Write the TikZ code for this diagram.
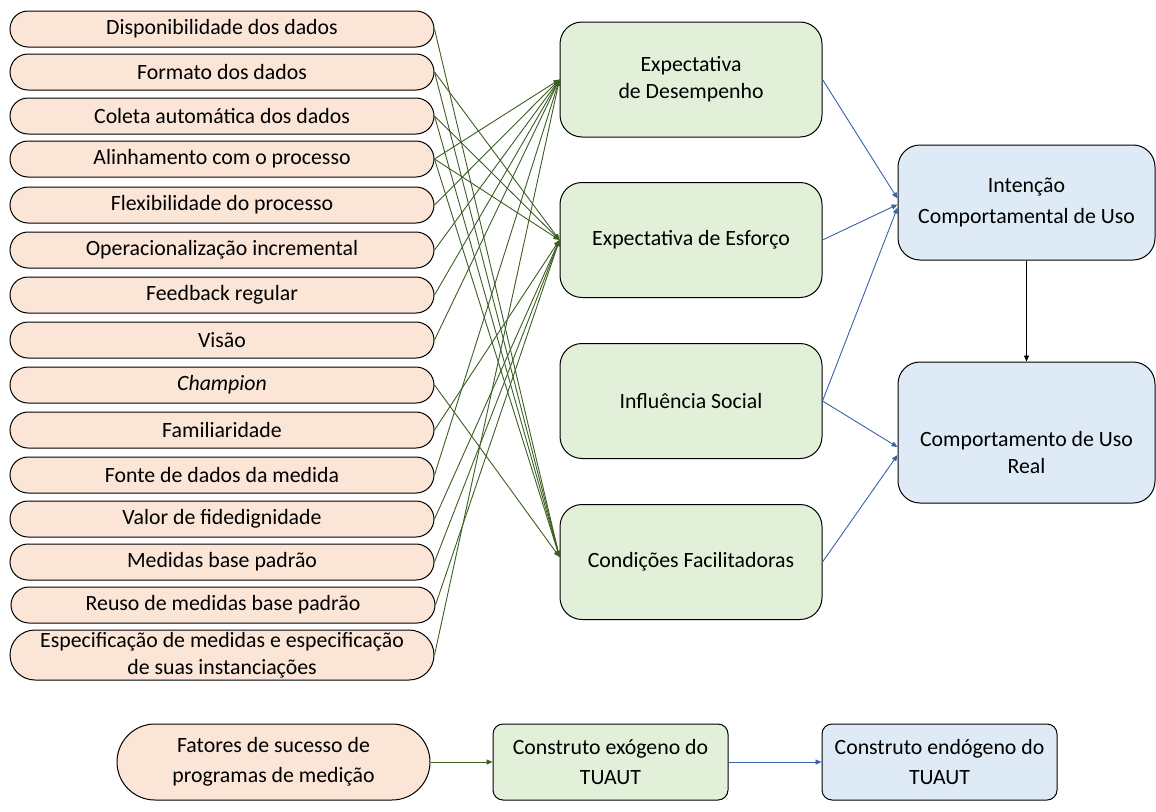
\documentclass[tikz,border=0pt]{standalone}
\usepackage{fontspec}
\setmainfont{Carlito}
\usetikzlibrary{arrows.meta,shapes.misc}
\definecolor{peach}{HTML}{FBE5D6}
\definecolor{lgreen}{HTML}{E2F0D9}
\definecolor{lblue}{HTML}{DEEBF7}
\definecolor{dgreen}{HTML}{3B5E22}
\definecolor{dblue}{HTML}{3A62A8}
\begin{document}
\begin{tikzpicture}[x=1pt,y=-1pt,
  every node/.style={font=\fontsize{21.8}{27}\selectfont, align=center, inner sep=0pt},
  factor/.style={rounded rectangle, draw=black, line width=1pt, fill=peach,
    minimum width=424pt, minimum height=36pt},
  exo/.style={draw=black, line width=1pt, fill=lgreen, rounded corners=22pt,
    minimum width=262pt, minimum height=115pt},
  endo/.style={draw=black, line width=1pt, fill=lblue, rounded corners=22pt,
    minimum width=257pt, minimum height=115pt},
  keybox/.style={draw=black, line width=1pt, rounded corners=10pt,
    minimum width=235pt, minimum height=76pt, font=\fontsize{21.8}{30}\selectfont},
  glink/.style={draw=dgreen, line width=0.9pt, -{Triangle[length=6pt,width=5pt]}},
  blink/.style={draw=dblue, line width=0.9pt, -{Triangle[length=6pt,width=5pt]}},
  klink/.style={draw=black, line width=0.9pt, -{Triangle[length=6pt,width=5pt]}}
]
\useasboundingbox (0,0) rectangle (1156,811);

% success factors
\node[factor] (f1)  at (222,29)  {Disponibilidade dos dados};
\node[factor] (f2)  at (222,72)  {Formato dos dados};
\node[factor] (f3)  at (222,116) {Coleta automática dos dados};
\node[factor] (f4)  at (222,159) {Alinhamento com o processo};
\node[factor] (f5)  at (222,205) {Flexibilidade do processo};
\node[factor] (f6)  at (222,250) {Operacionalização incremental};
\node[factor] (f7)  at (222,295) {Feedback regular};
\node[factor] (f8)  at (222,340) {Visão};
\node[factor] (f9)  at (222,385) {\itshape Champion};
\node[factor] (f10) at (222,430) {Familiaridade};
\node[factor] (f11) at (222,475) {Fonte de dados da medida};
\node[factor] (f12) at (222,519) {Valor de fidedignidade};
\node[factor] (f13) at (222,562) {Medidas base padrão};
\node[factor] (f14) at (223,605) {Reuso de medidas base padrão};
\node[factor, minimum height=50pt] (f15) at (222,655)
  {Especificação de medidas e especificação\\de suas instanciações};

% exogenous constructs
\node[exo] (ed) at (691,79.5) {Expectativa\\de Desempenho};
\node[exo] (ee) at (691,240)  {Expectativa de Esforço};
\node[exo] (is) at (691,401)  {Influência Social};
\node[exo] (cf) at (691,562)  {Condições Facilitadoras};

% endogenous constructs
\node[endo, font=\fontsize{21.8}{31}\selectfont] (ic) at (1026.5,202.5)
  {Intenção\\Comportamental de Uso};
\node[endo, minimum height=141pt] (cu) at (1026.5,432.5) {};
\node at (1026.5,453) {Comportamento de Uso\\Real};

% factor -> construct links
\foreach \f in {f4,f5,f6,f7,f8,f11,f15} \draw[glink] (\f.east) -- (ed.west);
\foreach \f in {f2,f3,f4,f10,f12,f13,f14} \draw[glink] (\f.east) -- (ee.west);
\foreach \f in {f1,f2,f3,f4,f9} \draw[glink] (\f.east) -- ([yshift=5pt]cf.west);

% construct -> construct links
\draw[blink] (ed.east) -- ([yshift=4pt]ic.west);
\draw[blink] (ee.east) -- ([yshift=-2pt]ic.west);
\draw[blink] (is.east) -- ([yshift=-5pt]ic.west);
\draw[blink] (is.east) -- ([yshift=-14.5pt]cu.west);
\draw[blink] (cf.east) -- ([yshift=-22.5pt]cu.west);
\draw[klink] (ic.south) -- (cu.north);

% key
\node[rounded rectangle, draw=black, line width=1pt, fill=peach,
  minimum width=313pt, minimum height=76pt, font=\fontsize{21.8}{30}\selectfont]
  (kf) at (273.5,762) {Fatores de sucesso de\\programas de medição};
\node[keybox, fill=lgreen] (kx) at (610.5,762) {Construto exógeno do\\TUAUT};
\node[keybox, fill=lblue]  (kn) at (939.5,762) {Construto endógeno do\\TUAUT};
\draw[glink] (kf.east) -- (kx.west);
\draw[blink] (kx.east) -- (kn.west);
\end{tikzpicture}
\end{document}
